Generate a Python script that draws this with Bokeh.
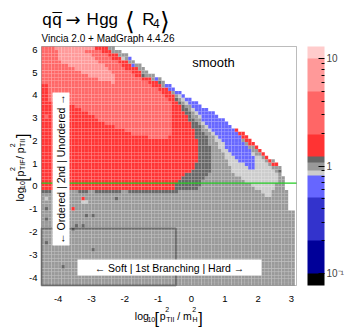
import numpy as np
from bokeh.plotting import figure
from bokeh.models import (ColorBar, LogColorMapper, FixedTicker, Label,
                          BoxAnnotation, Range1d)
from bokeh.embed import file_html
from bokeh.resources import INLINE

# ---------------- colour scale (band edges of <R4>) ----------------
band_edges = [1/13, 0.1, 0.2, 0.5, 0.8, 0.9, 1.1, 1.25, 2.0, 5.0, 10.0, 13.0]
band_colors = ["#000000", "#000099", "#3333cc", "#6666ff", "#cccccc", "#999999",
               "#666666", "#ff3333", "#ff6666", "#ff9999", "#ffcccc"]
BLUE, LGREY, GREY, DGREY, RED, SALMON, PINK = 3, 4, 5, 6, 7, 8, 9

# ---------------- axes ----------------
x_lim = (-4.5, 3.15)
y_lim = (-4.5, 6.0)
x_ticks = [-4, -3, -2, -1, 0, 1, 2, 3]
y_ticks = [-4, -3, -2, -1, 0, 1, 2, 3, 4, 5, 6]
x_tick_labels = ["-4", "-3", "-2", "-1", "0", "1", "2", "3"]
y_tick_labels = ["-4", "-3", "-2", "-1", "0", "1", "2", "3", "4", "5", "6"]

# ---------------- histogram binning ----------------
x_bin_edges = np.round(np.arange(-4.5, 3.1001, 0.1), 4)
y_bin_edges = np.round(np.arange(-4.5, 6.0001, 0.15), 4)

# ---------------- regions ----------------
phase_space_x = [-4.5, -4.5, -2.35, -1.8, -1.3, -0.65, -0.2, 0.3, 0.75, 1.15, 1.55, 1.75,
                 2.07, 2.42, 2.67, 2.77, 2.82, 2.92, 2.95, 3.1, 3.1]
phase_space_y = [-4.5, 6.0, 6.0, 5.5, 4.9, 4.3, 3.87, 3.4, 3.0, 2.56, 2.2, 1.9,
                 1.46, 1.02, 0.66, 0.29, -0.15, -0.6, -1.25, -1.25, -4.5]

lgrey_x = [-0.65, -0.03, 0.35, 0.72, 1.07, 1.22, 1.82, 2.12, 2.2, 2.38, 2.42, 2.55, 2.6,
           2.15, 1.8, 1.5, 1.0, 0.4, -0.4]
lgrey_y = [4.2, 3.36, 2.6, 1.9, 1.02, 0.44, -0.07, -0.43, -0.6, -0.6, -0.43, -0.07, 0.44,
           1.02, 1.46, 1.9, 2.6, 3.3, 4.1]

blue_x = [-0.9, 0.0, 0.6, 1.1, 1.4, 1.3, 1.52, 1.75, 1.92, 1.9, 1.85, 1.37, 1.1, 0.88,
          0.45, 0.06, -0.3, -0.75]
blue_y = [4.6, 3.9, 3.45, 3.0, 2.5, 2.3, 1.9, 1.46, 1.02, 0.6, 0.55, 1.02, 1.46, 1.9,
          2.56, 3.36, 3.8, 4.25]

dgrey_x = [-0.85, -0.18, 0.15, 0.52, 0.62, 0.57, 0.3, 0.22, -0.35, -0.35, -1.9, -1.9,
           -0.6, -0.3, -0.6]
dgrey_y = [4.3, 3.36, 2.7, 1.9, 1.02, 0.44, 0.0, -0.25, -0.3, -0.45, -0.45, -0.3,
           -0.3, 1.0, 3.0]

red_x = [-4.5, -4.5, -2.35, -1.8, -1.3, -0.75, -0.33, -0.05, 0.15, 0.18, 0.1, -0.18,
         -0.3, -0.48, -0.5]
red_y = [-0.3, 6.0, 6.0, 5.5, 4.9, 4.35, 3.36, 2.7, 2.0, 1.0, 0.6, 0.44,
         0.2, -0.07, -0.3]

salmon_x = [-4.5, -4.3, -4.3, -3.6, -3.1, -2.7, -2.3, -1.9, -1.6, -0.8, -0.55, -0.55,
            -0.7, -1.1, -1.8, -2.3, -2.85, -2.85, -4.5]
salmon_y = [4.4, 4.4, 3.6, 3.5, 3.07, 2.7, 2.48, 2.26, 2.04, 2.0, 2.1, 3.5,
            3.75, 4.2, 4.85, 5.4, 5.9, 6.0, 6.0]

pink_x = [-4.05, -2.9, -2.9, -3.2, -2.92, -2.62, -2.37, -2.25, -2.32, -2.67, -3.02,
          -3.32, -3.62, -3.82, -4.0, -3.95, -4.05]
pink_y = [6.0, 6.0, 5.85, 5.8, 5.48, 5.19, 4.89, 4.6, 4.39, 4.53, 4.68,
          4.89, 5.11, 5.26, 5.45, 5.7, 5.85]

edge_x = [-2.35, -1.8, -1.3, -0.65, -0.85, -1.5, -2.0, -2.6]
edge_y = [6.0, 5.5, 4.9, 4.3, 4.25, 4.85, 5.45, 6.0]

red_edge_x = [1.45, 1.55, 1.75, 2.07, 2.42, 2.6, 2.47, 2.29, 1.94, 1.62, 1.42, 1.32]
red_edge_y = [2.35, 2.2, 1.9, 1.46, 1.02, 0.75, 0.75, 1.02, 1.46, 1.9, 2.2, 2.35]

# dark-grey cells just below the red area (x from, x to), y in [-0.45, -0.3]
dark_strip_x0 = [-4.5, -3.45, -2.9, -1.95]
dark_strip_x1 = [-4.15, -3.1, -2.15, -0.4]

# isolated cells
speck_x = [-4.37, -4.37, -3.17, -2.91, -3.42, -3.22, -3.52, -4.37, -2.92, -3.80, -2.27,
           -3.27, -3.52, -4.33, -3.27, -3.12,
           -1.87, -1.7, -1.05, -2.25, -1.25, -2.0, -1.45, -0.9, 2.62, -4.32,
           -0.72, -0.62, -0.45, -0.35]
speck_y = [-1.17, -1.61, -1.39, -1.39, -1.83, -1.83, -2.05, -2.56, -2.89, -3.73, -0.70,
           -0.69, -1.05, -0.73, -0.87, -0.87,
           5.41, 5.25, 4.6, 5.9, 4.95, 5.55, 4.8, 4.4, 0.6, 2.86,
           4.33, 4.2, 4.05, 3.95]
speck_band = [DGREY] * 11 + [RED, RED, LGREY, LGREY, LGREY,
              BLUE, BLUE, BLUE, LGREY, LGREY, LGREY, DGREY, DGREY, DGREY, SALMON,
              BLUE, BLUE, BLUE, BLUE]


# ---------------- fill the histogram cells ----------------
def inside(X, Y, px, py):
    res = np.zeros(X.shape, bool)
    n = len(px)
    j = n - 1
    for i in range(n):
        xi, yi, xj, yj = px[i], py[i], px[j], py[j]
        if yi != yj:
            cond = ((yi > Y) != (yj > Y)) & (X < (xj - xi) * (Y - yi) / (yj - yi) + xi)
            res ^= cond
        j = i
    return res


xc = (x_bin_edges[:-1] + x_bin_edges[1:]) / 2
yc = (y_bin_edges[:-1] + y_bin_edges[1:]) / 2
XX, YY = np.meshgrid(xc, yc)
band = np.full(XX.shape, -1)
dom = inside(XX, YY, phase_space_x, phase_space_y)
band[dom] = GREY
layers = [(lgrey_x, lgrey_y, LGREY), (blue_x, blue_y, BLUE), (dgrey_x, dgrey_y, DGREY),
          (red_x, red_y, RED), (salmon_x, salmon_y, SALMON), (pink_x, pink_y, PINK),
          (edge_x, edge_y, GREY), (red_edge_x, red_edge_y, RED)]
for lx, ly, lev in layers:
    band[dom & inside(XX, YY, lx, ly)] = lev
for a, b in zip(dark_strip_x0, dark_strip_x1):
    m = dom & (XX > a) & (XX < b) & (YY > -0.45) & (YY < -0.3)
    band[m] = DGREY
for sx, sy, lev in zip(speck_x, speck_y, speck_band):
    i = int(np.searchsorted(x_bin_edges, sx) - 1)
    j = int(np.searchsorted(y_bin_edges, sy) - 1)
    if dom[j, i]:
        band[j, i] = lev

jj, ii = np.nonzero(band >= 0)
cell_l = x_bin_edges[ii]
cell_r = x_bin_edges[ii + 1]
cell_b = y_bin_edges[jj]
cell_t = y_bin_edges[jj + 1]
cell_c = [band_colors[k] for k in band[jj, ii]]

# ---------------- page geometry (the plotting area sits inside a full-canvas frame) ----
W, H = 349, 328
PL, PT, PW, PH = 41, 46, 255, 239          # plot area in canvas pixels
SX = PW / (x_lim[1] - x_lim[0])
SY = PH / (y_lim[1] - y_lim[0])
XR = (x_lim[0] - PL / SX, x_lim[1] + (W - PL - PW) / SX)
YR = (y_lim[0] - (H - PT - PH) / SY, y_lim[1] + PT / SY)

p = figure(width=W, height=H, x_range=Range1d(*XR), y_range=Range1d(*YR),
           output_backend="svg", toolbar_location=None,
           x_axis_location=None, y_axis_location=None,
           min_border=0, min_border_left=0, min_border_right=0,
           min_border_top=0, min_border_bottom=0,
           background_fill_color="white", border_fill_color="white")
p.grid.visible = False
p.outline_line_color = None


def dx(px):   # canvas pixel -> data x
    return x_lim[0] + (px - PL) / SX


def dy(py):   # canvas pixel -> data y
    return y_lim[1] - (py - PT) / SY


p.quad(left=cell_l, right=cell_r, bottom=cell_b, top=cell_t, fill_color=cell_c,
       line_color="white", line_alpha=0.13, line_width=0.5)
p.segment(x0=[x_lim[0]], x1=[x_lim[1]], y0=[0], y1=[0], line_color="#22cc22", line_width=1.2)

# plot-area outline
p.add_layout(BoxAnnotation(left=x_lim[0], right=x_lim[1], bottom=y_lim[0], top=y_lim[1],
                           fill_alpha=0, line_color="#222222", line_width=1))


def T(px, py, text, size, angle=0, align="left", baseline="alphabetic",
      font="Liberation Sans"):
    p.add_layout(Label(x=dx(px), y=dy(py), text=text, text_font=font,
                       text_font_size=f"{size}px", angle=angle, text_align=align,
                       text_baseline=baseline, text_color="black"))


# tick labels
for t, s in zip(x_ticks, x_tick_labels):
    p.add_layout(Label(x=t, y=dy(298), text=s, text_font="Liberation Sans",
                       text_font_size="9.5px", text_align="center",
                       text_baseline="alphabetic", text_color="black"))
for t, s in zip(y_ticks, y_tick_labels):
    p.add_layout(Label(x=dx(37), y=t, y_offset=-3.4, text=s, text_font="Liberation Sans",
                       text_font_size="9.5px", text_align="right",
                       text_baseline="alphabetic", text_color="black"))

# colour bar
N = 240
lo, hi = np.log10(band_edges[0]), np.log10(band_edges[-1])
palette = []
for k in range(N):
    v = 10 ** (lo + (k + 0.5) * (hi - lo) / N)
    idx = int(np.searchsorted(band_edges, v) - 1)
    palette.append(band_colors[min(max(idx, 0), len(band_colors) - 1)])
mapper = LogColorMapper(palette=palette, low=band_edges[0], high=band_edges[-1])
minor = [0.2, 0.3, 0.4, 0.5, 0.6, 0.7, 0.8, 0.9, 2, 3, 4, 5, 6, 7, 8, 9]
cb = ColorBar(color_mapper=mapper, ticker=FixedTicker(ticks=[0.1, 1, 10], minor_ticks=minor),
              width=17, height=PH, location=(307, H - PT - PH), padding=0,
              major_label_overrides={0.1: "10⁻¹", 1: "1", 10: "10"},
              major_label_text_font="Liberation Sans", major_label_text_font_size="10px",
              label_standoff=2, major_tick_line_color="black", major_tick_in=6,
              minor_tick_line_color="black", minor_tick_in=3, bar_line_color=None,
              background_fill_alpha=0, border_line_color=None)
p.add_layout(cb)

# ---------------- overlays ----------------
p.add_layout(BoxAnnotation(left=-4.5, right=-0.47, bottom=-4.5, top=-2.0, fill_alpha=0,
                           line_color="black", line_width=2))
p.add_layout(BoxAnnotation(left=dx(52), right=dx(69), top=dy(92), bottom=dy(245),
                           fill_color="white", fill_alpha=1, line_color=None))
p.add_layout(BoxAnnotation(left=dx(77), right=dx(261), top=dy(259), bottom=dy(275),
                           fill_color="white", fill_alpha=1, line_color=None))

T(60.5, 168.5, "← Ordered | 2nd | Unordered →", 10.5, angle=np.pi / 2,
  align="center", baseline="middle")
T(169, 267.3, "← Soft | 1st Branching | Hard →", 10.5, align="center", baseline="middle")
T(191.7, 61.7, "smooth", 13)

# title
tb = 18.5
T(41.7, tb, "q", 17)
T(51.7, tb, "q", 17)
T(51.9, tb, "¯", 17)
T(65, tb, "→", 18, font="DejaVu Sans")
T(86, tb, "H", 17)
T(98.7, tb, "g", 17)
T(108, tb, "g", 17)
T(124.5, tb + 2, "⟨", 25, font="DejaVu Sans")
T(141.7, tb, "R", 17)
T(152.5, tb + 4.5, "4", 12)
T(159.5, tb + 2, "⟩", 25, font="DejaVu Sans")
T(41, 37.7, "Vincia 2.0 + MadGraph 4.4.26", 10)

# x axis title: log10[p2_TII / m2_H]
sx0, bx = 134.3, 315.7
x_parts = [("log", 0, 0, 10.5), ("10", 12.6, 3, 7), ("[", 19.7, 2.5, 16), ("p", 25, 0, 10.5),
           ("2", 30.5, -7, 7), ("TII", 31.5, 3, 7), ("/ m", 42.4, 0, 10.5),
           ("2", 57.4, -7, 7), ("H", 57.6, 3, 7), ("]", 63.4, 2.5, 16)]
for t, o, s, f in x_parts:
    T(sx0 + o, bx + s, t, f)

# y axis title: log10[p2_TIF / p2_TII]
sy0, by = 201, 19.3
y_parts = [("log", 0, 0, 10.5), ("10", 12.6, 3, 7), ("[", 19.7, 2.5, 16), ("p", 25, 0, 10.5),
           ("2", 30.5, -7, 7), ("TIF", 31.5, 3, 7), ("/ p", 42.4, 0, 10.5),
           ("2", 54.2, -7, 7), ("TII", 54.5, 3, 7), ("]", 63.5, 2.5, 16)]
for t, o, s, f in y_parts:
    T(by + s, sy0 - o, t, f, angle=np.pi / 2)

open("out.html", "w").write(file_html(p, INLINE))
